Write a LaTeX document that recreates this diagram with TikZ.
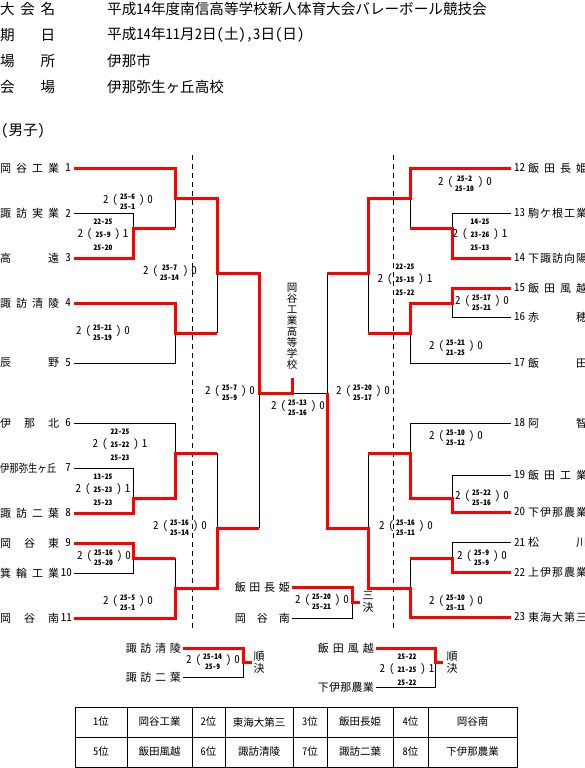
\documentclass[tikz,border=0pt]{standalone}
\usepackage{fontspec}
\setmainfont{Noto Sans CJK JP}[RawFeature=+hwid]
\usepackage{graphicx}

\newcommand{\nm}[2][59pt]{\makebox[#1]{#2}}
\newcommand{\scf}{\fontsize{7.5}{8}\selectfont\bfseries}
\newcommand{\scoretwo}[4]{#3\hspace{4pt}(\hspace{2pt}{\scf\def\arraystretch{1.25}\begin{tabular}{@{}c@{}}#1\\#2\end{tabular}}\hspace{4pt})\hspace{3pt}#4}
\newcommand{\scorethree}[5]{\begin{tabular}{@{}c@{}}{\scf #1}\\#4\hspace{4pt}(\hspace{3pt}{\scf #2}\hspace{4pt})\hspace{3pt}#5\\{\scf #3}\end{tabular}}

\begin{document}
\begin{tikzpicture}[x=1pt, y=-1pt,
    head/.style={inner sep=0pt, font=\fontsize{14.6}{16}\selectfont},
    team/.style={inner sep=0pt, font=\fontsize{11}{13}\selectfont},
    score/.style={inner sep=0pt, font=\fontsize{11}{12.5}\selectfont},
    cell/.style={inner sep=0pt, font=\fontsize{10.5}{12}\selectfont},
    win/.style={red, line width=3pt},
    lose/.style={black, line width=0.8pt},
    split/.style={black, line width=0.8pt, dash pattern=on 5pt off 4pt},
    grid/.style={black, line width=0.8pt}
  ]
    \useasboundingbox (0,0) rectangle (584,768);

    % heading
    \node[head, anchor=west] (k1) at (0,9) {\nm[55pt]{大\hfill 会\hfill 名}};
    \node[head, anchor=west] (v1) at (107,9) {平成14年度南信高等学校新人体育大会バレーボール競技会};
    \node[head, anchor=west] (k2) at (0,35) {\nm[55pt]{期\hfill 日}};
    \node[head, anchor=west] (v2) at (107,35) {平成14年11月2日(土),3日(日)};
    \node[head, anchor=west] (k3) at (0,61) {\nm[55pt]{場\hfill 所}};
    \node[head, anchor=west] (v3) at (107,61) {伊那市};
    \node[head, anchor=west] (k4) at (0,87) {\nm[55pt]{会\hfill 場}};
    \node[head, anchor=west] (v4) at (107,87) {伊那弥生ヶ丘高校};
    \node[head, anchor=west] (boys) at (1,131) {(男子)};

    % left teams
    \node[team, anchor=west] (t1) at (0,168) {\nm{岡\hfill 谷\hfill 工\hfill 業}};
    \node[team, anchor=west] (t2) at (0,213) {\nm{諏\hfill 訪\hfill 実\hfill 業}};
    \node[team, anchor=west] (t3) at (0,258) {\nm{高\hfill 遠}};
    \node[team, anchor=west] (t4) at (0,303) {\nm{諏\hfill 訪\hfill 清\hfill 陵}};
    \node[team, anchor=west] (t5) at (0,363) {\nm{辰\hfill 野}};
    \node[team, anchor=west] (t6) at (0,423) {\nm{伊\hfill 那\hfill 北}};
    \node[team, anchor=west] (t7) at (0,468) {\nm{\scalebox{0.85}[1]{伊那弥生ヶ丘}\hfill}};
    \node[team, anchor=west] (t8) at (0,513) {\nm{諏\hfill 訪\hfill 二\hfill 葉}};
    \node[team, anchor=west] (t9) at (0,543) {\nm{岡\hfill 谷\hfill 東}};
    \node[team, anchor=west] (t10) at (0,573) {\nm{箕\hfill 輪\hfill 工\hfill 業}};
    \node[team, anchor=west] (t11) at (0,618) {\nm{岡\hfill 谷\hfill 南}};
    \node[team, anchor=east] (n1) at (71,168) {1};
    \node[team, anchor=east] (n2) at (71,213) {2};
    \node[team, anchor=east] (n3) at (71,258) {3};
    \node[team, anchor=east] (n4) at (71,303) {4};
    \node[team, anchor=east] (n5) at (71,363) {5};
    \node[team, anchor=east] (n6) at (71,423) {6};
    \node[team, anchor=east] (n7) at (71,468) {7};
    \node[team, anchor=east] (n8) at (71,513) {8};
    \node[team, anchor=east] (n9) at (71,543) {9};
    \node[team, anchor=east] (n10) at (72,573) {10};
    \node[team, anchor=east] (n11) at (72,618) {11};

    % right teams
    \node[team, anchor=west] (n12) at (514,168) {12};
    \node[team, anchor=west] (n13) at (514,213) {13};
    \node[team, anchor=west] (n14) at (514,258) {14};
    \node[team, anchor=west] (n15) at (514,288) {15};
    \node[team, anchor=west] (n16) at (514,317) {16};
    \node[team, anchor=west] (n17) at (514,363) {17};
    \node[team, anchor=west] (n18) at (514,423) {18};
    \node[team, anchor=west] (n19) at (514,475) {19};
    \node[team, anchor=west] (n20) at (514,512) {20};
    \node[team, anchor=west] (n21) at (514,542) {21};
    \node[team, anchor=west] (n22) at (514,572) {22};
    \node[team, anchor=west] (n23) at (514,617) {23};
    \node[team, anchor=west] (t12) at (528,168) {\nm{飯\hfill 田\hfill 長\hfill 姫}};
    \node[team, anchor=west] (t13) at (528,213) {\nm{駒\hfill ケ\hfill 根\hfill 工\hfill 業}};
    \node[team, anchor=west] (t14) at (528,258) {\nm{下\hfill 諏\hfill 訪\hfill 向\hfill 陽}};
    \node[team, anchor=west] (t15) at (528,288) {\nm{飯\hfill 田\hfill 風\hfill 越}};
    \node[team, anchor=west] (t16) at (528,317) {\nm{赤\hfill 穂}};
    \node[team, anchor=west] (t17) at (528,363) {\nm{飯\hfill 田}};
    \node[team, anchor=west] (t18) at (528,423) {\nm{阿\hfill 智}};
    \node[team, anchor=west] (t19) at (528,475) {\nm{飯\hfill 田\hfill 工\hfill 業}};
    \node[team, anchor=west] (t20) at (528,512) {\nm{下\hfill 伊\hfill 那\hfill 農\hfill 業}};
    \node[team, anchor=west] (t21) at (528,542) {\nm{松\hfill 川}};
    \node[team, anchor=west] (t22) at (528,572) {\nm{上\hfill 伊\hfill 那\hfill 農\hfill 業}};
    \node[team, anchor=west] (t23) at (528,617) {\nm{東\hfill 海\hfill 大\hfill 第\hfill 三}};

    % champion
    \node[team, align=center, font=\fontsize{10.5}{11}\selectfont] (champ) at (292,326)
      {岡\\谷\\工\\業\\高\\等\\学\\校};

    % line ends
    \coordinate (L1) at (74,168);  \coordinate (L2) at (74,213);  \coordinate (L3) at (74,258);
    \coordinate (L4) at (74,303);  \coordinate (L5) at (74,363);  \coordinate (L6) at (74,423);
    \coordinate (L7) at (74,468);  \coordinate (L8) at (74,513);  \coordinate (L9) at (74,543);
    \coordinate (L10) at (74,573); \coordinate (L11) at (74,618);
    \coordinate (R12) at (511,168); \coordinate (R13) at (511,213); \coordinate (R14) at (511,258);
    \coordinate (R15) at (511,288); \coordinate (R16) at (511,317); \coordinate (R17) at (511,363);
    \coordinate (R18) at (511,423); \coordinate (R19) at (511,475); \coordinate (R20) at (511,512);
    \coordinate (R21) at (511,542); \coordinate (R22) at (511,572); \coordinate (R23) at (511,617);

    % match points
    \coordinate (la) at (133,228); \coordinate (lb) at (175,198); \coordinate (lc) at (175,333);
    \coordinate (ld) at (217,273); \coordinate (le) at (133,498); \coordinate (lf) at (175,453);
    \coordinate (lg) at (133,558); \coordinate (lh) at (175,588); \coordinate (li) at (217,528);
    \coordinate (semiL) at (259,393);
    \coordinate (ra) at (452,228); \coordinate (rb) at (410,198); \coordinate (rc) at (452,303);
    \coordinate (rd) at (410,333); \coordinate (re) at (368,273); \coordinate (rf) at (452,498);
    \coordinate (rg) at (410,453); \coordinate (rh) at (452,558); \coordinate (ri) at (410,588);
    \coordinate (rj) at (368,528); \coordinate (semiR) at (327,393);
    \coordinate (fin) at (292,393); \coordinate (top) at (292,378);

    % day split
    \draw[split] (192,155) -- (192,630);
    \draw[split] (393,155) -- (393,630);

    % losers
    \draw[lose] (L2) -| (la);
    \draw[lose] (la -| lb) -- (lb);
    \draw[lose] (L5) -| (lc);
    \draw[lose] (lc -| ld) -- (ld);
    \draw[lose] (L6) -| (lf);
    \draw[lose] (L7) -| (le);
    \draw[lose] (L10) -| (lg);
    \draw[lose] (lg -| lh) -- (lh);
    \draw[lose] (lf -| li) -- (li);
    \draw[lose] (li -| semiL) -- (semiL);
    \draw[lose] (semiL) -- (semiR);
    \draw[lose] (R13) -| (ra);
    \draw[lose] (ra -| rb) -- (rb);
    \draw[lose] (R16) -| (rc);
    \draw[lose] (R17) -| (rd);
    \draw[lose] (rd -| re) -- (re);
    \draw[lose] (R18) -| (rg);
    \draw[lose] (R19) -| (rf);
    \draw[lose] (R21) -| (rh);
    \draw[lose] (rh -| ri) -- (ri);
    \draw[lose] (rg -| rj) -- (rj);
    \draw[lose] (re -| semiR) -- (semiR);

    % winners
    \draw[win] (L1) -| (lb) -- (lb -| ld) -- (ld) -- (ld -| semiL) -- (semiL) -- (fin) -- (top);
    \draw[win] (L3) -| (la) -- (la -| lb);
    \draw[win] (L4) -| (lc) -- (lc -| ld);
    \draw[win] (L8) -| (le) -- (le -| lf) -- (lf) -- (lf -| li);
    \draw[win] (L9) -| (lg) -- (lg -| lh);
    \draw[win] (L11) -| (lh) -- (lh -| li) -- (li) -- (li -| semiL);
    \draw[win] (R12) -| (rb) -- (rb -| re) -- (re) -- (re -| semiR);
    \draw[win] (R14) -| (ra) -- (ra -| rb);
    \draw[win] (R15) -| (rc) -- (rc -| rd) -- (rd) -- (rd -| re);
    \draw[win] (R20) -| (rf) -- (rf -| rg) -- (rg) -- (rg -| rj);
    \draw[win] (R22) -| (rh) -- (rh -| ri);
    \draw[win] (R23) -| (ri) -- (ri -| rj) -- (rj) -- (rj -| semiR) -- (semiR);

    % scores
    \node[score] (sa) at (103,235) {\scorethree{22-25}{25-9}{25-20}{2}{1}};
    \node[score] (sb) at (128,202) {\scoretwo{25-6}{25-1}{2}{0}};
    \node[score] (sc) at (103,333) {\scoretwo{25-21}{25-19}{2}{0}};
    \node[score] (sd) at (170,273) {\scoretwo{25-7}{25-14}{2}{0}};
    \node[score] (se) at (103,490) {\scorethree{13-25}{25-23}{25-23}{2}{1}};
    \node[score] (sf) at (120,445) {\scorethree{22-25}{25-22}{25-23}{2}{1}};
    \node[score] (sg) at (104,558) {\scoretwo{25-16}{25-20}{2}{0}};
    \node[score] (sh) at (128,603) {\scoretwo{25-5}{25-1}{2}{0}};
    \node[score] (si) at (180,528) {\scoretwo{25-16}{25-14}{2}{0}};
    \node[score] (ssL) at (230,393) {\scoretwo{25-7}{25-9}{2}{0}};
    \node[score] (sfin) at (298,408) {\scoretwo{25-13}{25-16}{2}{0}};
    \node[score] (ta) at (480,235) {\scorethree{14-25}{23-26}{25-13}{2}{1}};
    \node[score] (tb) at (465,184) {\scoretwo{25-2}{25-10}{2}{0}};
    \node[score] (tc) at (482,303) {\scoretwo{25-17}{25-21}{2}{0}};
    \node[score] (td) at (456,348) {\scoretwo{25-21}{21-25}{2}{0}};
    \node[score] (te) at (405,280) {\scorethree{22-25}{25-15}{25-22}{2}{1}};
    \node[score] (tf) at (482,498) {\scoretwo{25-22}{25-16}{2}{0}};
    \node[score] (tg) at (456,438) {\scoretwo{25-10}{25-12}{2}{0}};
    \node[score] (th) at (482,558) {\scoretwo{25-9}{25-9}{2}{0}};
    \node[score] (ti) at (456,603) {\scoretwo{25-10}{25-11}{2}{0}};
    \node[score] (tj) at (406,528) {\scoretwo{25-16}{25-11}{2}{0}};
    \node[score] (tsR) at (363,393) {\scoretwo{25-20}{25-17}{2}{0}};

    % third place
    \node[team, anchor=east] (x1) at (290,587) {\nm[55pt]{飯\hfill 田\hfill 長\hfill 姫}};
    \node[team, anchor=east] (x2) at (290,618) {\nm[55pt]{岡\hfill 谷\hfill 南}};
    \coordinate (X1) at (292,587); \coordinate (X2) at (292,618);
    \coordinate (xm) at (352,602); \coordinate (xo) at (360,602);
    \draw[lose] (X2) -| (xm);
    \draw[win] (X1) -| (xm) -- (xo);
    \node[score] (sx) at (322,602) {\scoretwo{25-20}{25-21}{2}{0}};
    \node[team, align=center, font=\fontsize{11}{12}\selectfont] (xl) at (368,602) {三\\決};

    % fifth place
    \node[team, anchor=east] (y1) at (181,648) {\nm[55pt]{諏\hfill 訪\hfill 清\hfill 陵}};
    \node[team, anchor=east] (y2) at (181,677) {\nm[55pt]{諏\hfill 訪\hfill 二\hfill 葉}};
    \coordinate (Y1) at (183,648); \coordinate (Y2) at (183,677);
    \coordinate (ym) at (243,662); \coordinate (yo) at (252,662);
    \draw[lose] (Y2) -| (ym);
    \draw[win] (Y1) -| (ym) -- (yo);
    \node[score] (sy) at (213,662) {\scoretwo{25-14}{25-9}{2}{0}};
    \node[team, align=center, font=\fontsize{11}{12}\selectfont] (yl) at (259,663) {順\\決};

    \node[team, anchor=east] (z1) at (374,648) {\nm[56pt]{飯\hfill 田\hfill 風\hfill 越}};
    \node[team, anchor=east] (z2) at (374,687) {\nm[56pt]{下\hfill 伊\hfill 那\hfill 農\hfill 業}};
    \coordinate (Z1) at (376,648); \coordinate (Z2) at (376,687);
    \coordinate (zm) at (435,662); \coordinate (zo) at (443,662);
    \draw[lose] (Z2) -| (zm);
    \draw[win] (Z1) -| (zm) -- (zo);
    \node[score] (sz) at (407,670) {\scorethree{25-22}{21-25}{25-22}{2}{1}};
    \node[team, align=center, font=\fontsize{11}{12}\selectfont] (zl) at (452,663) {順\\決};

    % standings
    \draw[grid] (75,707) rectangle (517,767);
    \draw[grid] (75,737) -- (517,737);
    \foreach \x in {127,192,225,293,327,393,428}
      \draw[grid] (\x,707) -- (\x,767);
    \foreach \x/\t [count=\i] in {101/1位, 159.5/岡谷工業, 208.5/2位, 259/東海大第三,
        310/3位, 360/飯田長姫, 410.5/4位, 472.5/岡谷南}
      \node[cell] (pa\i) at (\x,722) {\t};
    \foreach \x/\t [count=\i] in {101/5位, 159.5/飯田風越, 208.5/6位, 259/諏訪清陵,
        310/7位, 360/諏訪二葉, 410.5/8位, 472.5/下伊那農業}
      \node[cell] (pb\i) at (\x,752) {\t};
  \end{tikzpicture}
\end{document}
